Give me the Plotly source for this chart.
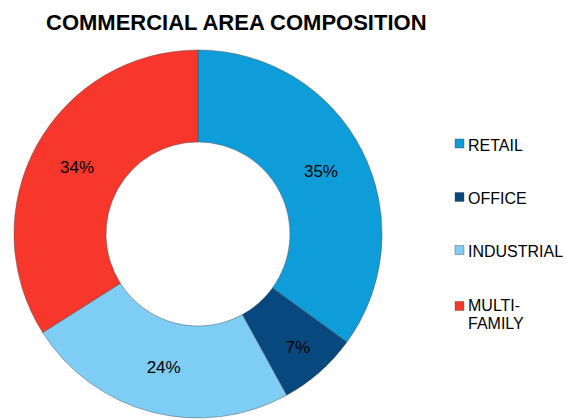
import plotly.graph_objects as go

# Commercial area composition (share of total floor area, %)
categories = ["RETAIL", "OFFICE", "INDUSTRIAL", "MULTI-FAMILY"]
legend_lines = [["RETAIL"], ["OFFICE"], ["INDUSTRIAL"], ["MULTI-", "FAMILY"]]
shares = [35, 7, 24, 34]
colors = ["#0E9DD9", "#07497F", "#7DCDF4", "#F8372C"]

W, H = 566, 420
FONT = "Liberation Sans, Arial, sans-serif"

fig = go.Figure()
fig.add_trace(go.Pie(
    labels=categories,
    values=shares,
    sort=False,
    direction="clockwise",
    rotation=0,
    hole=0.5,
    marker=dict(colors=colors, line=dict(color="rgba(70,70,70,0.55)", width=0.8)),
    textinfo="percent",
    textposition="inside",
    insidetextorientation="horizontal",
    insidetextfont=dict(family=FONT, size=17, color="#000000"),
    domain=dict(x=[14 / W, 382 / W], y=[2 / H, 370 / H]),
    showlegend=False,
    hoverinfo="label+percent",
))

# Title
fig.add_annotation(
    text="<b>COMMERCIAL AREA COMPOSITION</b>",
    x=44 / W, y=1 - 22 / H, xref="paper", yref="paper",
    xanchor="left", yanchor="middle", showarrow=False,
    font=dict(family=FONT, size=22, color="#000000"),
)

# Legend drawn as swatches + labels
first_line_y = [145, 198, 251, 305.5]
swatch_y = [143.5, 197, 250, 306]
line_step = 18
for lines, col, ty, sy in zip(legend_lines, colors, first_line_y, swatch_y):
    fig.add_shape(
        type="rect", xref="paper", yref="paper",
        x0=455 / W, x1=464 / W, y0=1 - (sy - 4.5) / H, y1=1 - (sy + 4.5) / H,
        fillcolor=col, line=dict(color="rgba(60,60,60,0.6)", width=0.6),
    )
    for i, line in enumerate(lines):
        fig.add_annotation(
            text=line, x=466 / W, y=1 - (ty + i * line_step) / H,
            xref="paper", yref="paper",
            xanchor="left", yanchor="middle", align="left", showarrow=False,
            font=dict(family=FONT, size=16, color="#000000"),
        )

fig.update_layout(
    width=W, height=H,
    margin=dict(l=0, r=0, t=0, b=0),
    paper_bgcolor="white", plot_bgcolor="white",
)

fig.write_html("out.html")
